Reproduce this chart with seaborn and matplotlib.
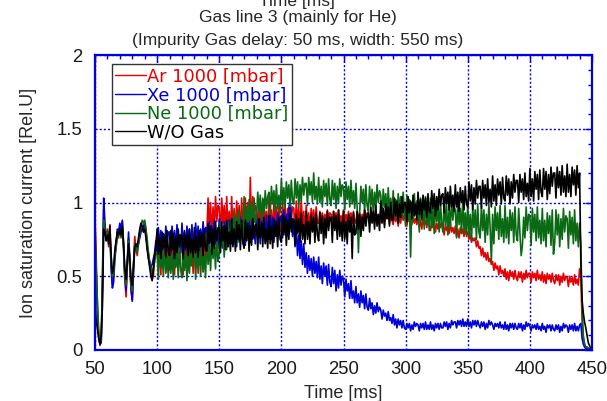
import numpy as np
import pandas as pd
import seaborn as sns
import matplotlib.pyplot as plt
from matplotlib.lines import Line2D
from matplotlib.ticker import MultipleLocator, FormatStrFormatter

# probe signal sampled every 1 ms
time_ms = np.arange(50, 451, 1.0)

# values, one row per 10 ms (last entry: 450 ms)
ar_1000 = [
    0.90, 0.62, 0.28, 0.10, 0.03, 0.06, 0.42, 0.95, 0.83, 0.74,
    0.82, 0.70, 0.85, 0.58, 0.44, 0.52, 0.66, 0.74, 0.80, 0.76,
    0.84, 0.78, 0.87, 0.68, 0.48, 0.36, 0.56, 0.76, 0.58, 0.40,
    0.34, 0.57, 0.77, 0.68, 0.64, 0.74, 0.77, 0.82, 0.84, 0.80,
    0.87, 0.82, 0.70, 0.66, 0.58, 0.56, 0.48, 0.50, 0.62, 0.72,
    0.79, 0.55, 0.71, 0.51, 0.76, 0.61, 0.73, 0.52, 0.78, 0.58,
    0.54, 0.78, 0.59, 0.75, 0.51, 0.72, 0.57, 0.79, 0.62, 0.73,
    0.72, 0.51, 0.78, 0.61, 0.73, 0.54, 0.79, 0.57, 0.69, 0.52,
    0.80, 0.56, 0.72, 0.52, 0.77, 0.62, 0.74, 0.53, 0.79, 0.59,
    0.79, 1.03, 0.84, 1.00, 0.76, 0.97, 0.82, 1.04, 0.87, 0.98,
    0.97, 0.76, 1.03, 0.86, 0.98, 0.79, 1.04, 0.82, 0.94, 0.77,
    1.04, 0.80, 0.96, 0.76, 1.01, 0.86, 0.98, 0.77, 1.03, 0.83,
    0.79, 1.03, 0.84, 1.00, 0.76, 1.17, 0.82, 1.04, 0.87, 0.98,
    0.96, 0.78, 1.01, 0.86, 0.97, 0.80, 1.02, 0.83, 0.94, 0.79,
    1.02, 0.82, 0.95, 0.78, 1.00, 0.86, 0.97, 0.79, 1.01, 0.84,
    0.80, 1.01, 0.85, 0.98, 0.78, 0.96, 0.83, 1.02, 0.88, 0.97,
    0.96, 0.78, 1.01, 0.86, 0.97, 0.80, 1.02, 0.83, 0.94, 0.79,
    0.98, 0.84, 0.93, 0.82, 0.96, 0.88, 0.95, 0.83, 0.97, 0.86,
    0.86, 0.94, 0.88, 0.93, 0.85, 0.92, 0.87, 0.95, 0.89, 0.93,
    0.92, 0.85, 0.94, 0.89, 0.93, 0.86, 0.95, 0.87, 0.91, 0.86,
    0.95, 0.87, 0.92, 0.85, 0.94, 0.89, 0.93, 0.86, 0.94, 0.88,
    0.86, 0.94, 0.88, 0.93, 0.85, 0.92, 0.87, 0.95, 0.89, 0.93,
    0.92, 0.85, 0.94, 0.89, 0.93, 0.86, 0.95, 0.87, 0.91, 0.86,
    0.95, 0.87, 0.92, 0.85, 0.94, 0.89, 0.93, 0.86, 0.94, 0.88,
    0.85, 0.93, 0.87, 0.92, 0.84, 0.91, 0.86, 0.94, 0.88, 0.92,
    0.90, 0.84, 0.91, 0.87, 0.90, 0.85, 0.92, 0.86, 0.89, 0.85,
    0.90, 0.83, 0.88, 0.82, 0.89, 0.85, 0.88, 0.83, 0.89, 0.84,
    0.81, 0.87, 0.83, 0.87, 0.80, 0.86, 0.82, 0.88, 0.83, 0.86,
    0.84, 0.78, 0.85, 0.81, 0.84, 0.79, 0.86, 0.80, 0.83, 0.79,
    0.84, 0.77, 0.82, 0.76, 0.83, 0.79, 0.82, 0.77, 0.83, 0.78,
    0.80, 0.75, 0.79, 0.73, 0.76, 0.74, 0.76, 0.70, 0.74, 0.69,
    0.70, 0.64, 0.69, 0.63, 0.66, 0.61, 0.66, 0.60, 0.62, 0.58,
    0.60, 0.54, 0.59, 0.55, 0.57, 0.51, 0.57, 0.52, 0.54, 0.50,
    0.55, 0.48, 0.53, 0.47, 0.54, 0.50, 0.53, 0.48, 0.54, 0.49,
    0.47, 0.53, 0.49, 0.53, 0.46, 0.52, 0.48, 0.54, 0.49, 0.52,
    0.52, 0.46, 0.53, 0.49, 0.52, 0.47, 0.54, 0.48, 0.51, 0.47,
    0.53, 0.46, 0.51, 0.45, 0.52, 0.48, 0.51, 0.46, 0.52, 0.47,
    0.45, 0.51, 0.47, 0.51, 0.44, 0.50, 0.46, 0.52, 0.47, 0.50,
    0.49, 0.43, 0.50, 0.46, 0.49, 0.44, 0.51, 0.45, 0.48, 0.44,
    0.55, 0.50, 0.20, 0.08, 0.04, 0.02, 0.02, 0.01, 0.01, 0.00,
    0.00,
]
xe_1000 = [
    0.78, 0.50, 0.22, 0.08, 0.04, 0.05, 0.50, 1.03, 0.86, 0.76,
    0.80, 0.74, 0.78, 0.55, 0.42, 0.46, 0.62, 0.70, 0.82, 0.80,
    0.86, 0.82, 0.88, 0.72, 0.50, 0.40, 0.60, 0.80, 0.62, 0.42,
    0.33, 0.52, 0.70, 0.72, 0.68, 0.72, 0.76, 0.80, 0.82, 0.84,
    0.86, 0.80, 0.70, 0.62, 0.60, 0.56, 0.58, 0.62, 0.66, 0.74,
    0.66, 0.83, 0.70, 0.81, 0.64, 0.79, 0.68, 0.84, 0.72, 0.80,
    0.80, 0.65, 0.84, 0.72, 0.81, 0.67, 0.85, 0.69, 0.78, 0.66,
    0.86, 0.69, 0.80, 0.66, 0.84, 0.73, 0.82, 0.67, 0.85, 0.71,
    0.69, 0.86, 0.73, 0.84, 0.67, 0.82, 0.71, 0.87, 0.75, 0.83,
    0.83, 0.68, 0.87, 0.75, 0.84, 0.70, 0.88, 0.72, 0.81, 0.69,
    0.89, 0.72, 0.83, 0.69, 0.87, 0.76, 0.85, 0.70, 0.88, 0.74,
    0.72, 0.89, 0.76, 0.87, 0.70, 0.85, 0.74, 0.90, 0.78, 0.86,
    0.86, 0.71, 0.90, 0.78, 0.87, 0.73, 0.91, 0.75, 0.84, 0.72,
    0.92, 0.75, 0.86, 0.72, 0.90, 0.79, 0.88, 0.73, 0.91, 0.77,
    0.75, 0.92, 0.79, 0.90, 0.73, 0.88, 0.77, 0.93, 0.81, 0.89,
    0.91, 0.76, 0.95, 0.83, 0.92, 0.78, 0.96, 1.02, 0.89, 0.77,
    0.88, 0.70, 0.82, 0.64, 0.78, 0.62, 0.74, 0.58, 0.72, 0.56,
    0.66, 0.52, 0.64, 0.54, 0.62, 0.50, 0.63, 0.52, 0.60, 0.49,
    0.63, 0.48, 0.57, 0.45, 0.59, 0.50, 0.57, 0.44, 0.58, 0.46,
    0.43, 0.56, 0.45, 0.54, 0.40, 0.51, 0.42, 0.54, 0.44, 0.50,
    0.48, 0.36, 0.48, 0.40, 0.45, 0.35, 0.47, 0.35, 0.40, 0.32,
    0.43, 0.32, 0.38, 0.29, 0.40, 0.32, 0.37, 0.28, 0.38, 0.29,
    0.27, 0.35, 0.28, 0.32, 0.24, 0.30, 0.25, 0.32, 0.26, 0.29,
    0.27, 0.21, 0.27, 0.23, 0.25, 0.20, 0.26, 0.20, 0.22, 0.18,
    0.24, 0.17, 0.21, 0.15, 0.21, 0.17, 0.20, 0.15, 0.20, 0.15,
    0.14, 0.18, 0.15, 0.18, 0.13, 0.17, 0.14, 0.19, 0.16, 0.18,
    0.17, 0.13, 0.18, 0.15, 0.18, 0.14, 0.19, 0.14, 0.17, 0.14,
    0.19, 0.14, 0.17, 0.13, 0.18, 0.15, 0.18, 0.14, 0.18, 0.15,
    0.15, 0.19, 0.16, 0.19, 0.14, 0.18, 0.15, 0.20, 0.17, 0.19,
    0.19, 0.15, 0.20, 0.17, 0.20, 0.16, 0.21, 0.16, 0.19, 0.16,
    0.21, 0.16, 0.19, 0.15, 0.20, 0.17, 0.20, 0.16, 0.20, 0.17,
    0.15, 0.19, 0.16, 0.19, 0.14, 0.18, 0.15, 0.20, 0.17, 0.19,
    0.17, 0.14, 0.18, 0.16, 0.18, 0.15, 0.19, 0.15, 0.17, 0.14,
    0.19, 0.14, 0.17, 0.13, 0.18, 0.15, 0.18, 0.14, 0.18, 0.15,
    0.14, 0.18, 0.15, 0.18, 0.13, 0.17, 0.14, 0.19, 0.16, 0.18,
    0.16, 0.13, 0.17, 0.15, 0.17, 0.14, 0.18, 0.14, 0.16, 0.13,
    0.18, 0.14, 0.16, 0.12, 0.17, 0.15, 0.17, 0.13, 0.17, 0.14,
    0.13, 0.17, 0.14, 0.17, 0.12, 0.16, 0.13, 0.18, 0.15, 0.17,
    0.16, 0.12, 0.17, 0.14, 0.17, 0.13, 0.18, 0.13, 0.16, 0.13,
    0.17, 0.18, 0.08, 0.04, 0.02, 0.01, 0.01, 0.01, 0.00, 0.00,
    0.00,
]
ne_1000 = [
    0.85, 0.55, 0.32, 0.12, 0.05, 0.07, 0.38, 0.88, 0.82, 0.78,
    0.80, 0.76, 0.78, 0.62, 0.50, 0.52, 0.64, 0.70, 0.76, 0.80,
    0.80, 0.76, 0.82, 0.70, 0.52, 0.44, 0.58, 0.74, 0.60, 0.44,
    0.40, 0.58, 0.72, 0.70, 0.66, 0.72, 0.80, 0.84, 0.88, 0.86,
    0.88, 0.82, 0.75, 0.66, 0.60, 0.55, 0.52, 0.56, 0.60, 0.66,
    0.66, 0.48, 0.71, 0.56, 0.67, 0.50, 0.72, 0.53, 0.64, 0.49,
    0.72, 0.52, 0.65, 0.48, 0.70, 0.56, 0.67, 0.49, 0.71, 0.54,
    0.49, 0.70, 0.54, 0.67, 0.47, 0.65, 0.52, 0.71, 0.57, 0.66,
    0.66, 0.48, 0.71, 0.56, 0.67, 0.50, 0.72, 0.53, 0.64, 0.49,
    0.78, 0.58, 0.71, 0.54, 0.76, 0.62, 0.73, 0.55, 0.77, 0.60,
    0.65, 0.86, 0.70, 0.83, 0.63, 0.81, 0.68, 0.87, 0.73, 0.82,
    0.89, 0.71, 0.94, 0.79, 0.90, 0.73, 0.95, 0.76, 0.87, 0.72,
    1.04, 0.84, 0.97, 0.80, 1.02, 0.88, 0.99, 0.81, 1.03, 0.86,
    0.90, 1.07, 0.94, 1.05, 0.88, 1.03, 0.92, 1.08, 0.96, 1.04,
    1.07, 0.92, 1.11, 0.99, 1.08, 0.94, 1.12, 0.96, 1.05, 0.93,
    1.16, 0.99, 1.10, 0.96, 1.14, 1.03, 1.12, 0.97, 1.15, 1.01,
    0.99, 1.16, 1.03, 1.14, 0.97, 1.12, 1.01, 1.17, 1.05, 1.13,
    1.13, 0.98, 1.17, 1.05, 1.14, 1.00, 1.20, 1.02, 1.11, 0.99,
    1.17, 1.00, 1.11, 0.97, 1.15, 1.04, 1.13, 0.98, 1.16, 1.02,
    0.98, 1.15, 1.02, 1.13, 0.96, 1.11, 1.00, 1.16, 1.04, 1.12,
    1.10, 0.95, 1.14, 1.02, 1.11, 0.97, 1.15, 0.99, 1.08, 0.96,
    1.13, 0.96, 0.66, 0.93, 1.11, 1.00, 1.09, 0.94, 1.12, 0.98,
    0.94, 1.11, 0.98, 1.09, 0.92, 1.07, 0.96, 1.12, 1.00, 1.08,
    1.05, 0.90, 1.09, 0.97, 1.06, 0.92, 1.10, 0.94, 1.03, 0.91,
    1.08, 0.91, 1.02, 0.88, 1.06, 0.95, 1.04, 0.89, 1.07, 0.93,
    0.84, 1.05, 0.89, 1.02, 0.63, 1.00, 0.87, 1.06, 0.92, 1.01,
    0.98, 0.80, 1.03, 0.88, 0.99, 0.82, 1.04, 0.85, 0.96, 0.81,
    1.03, 0.83, 0.96, 0.79, 1.01, 0.87, 0.98, 0.80, 1.02, 0.85,
    0.80, 1.01, 0.85, 0.98, 0.78, 0.96, 0.83, 1.02, 0.88, 0.97,
    0.95, 0.76, 1.01, 0.85, 0.96, 0.79, 1.02, 0.81, 0.93, 0.77,
    1.00, 0.78, 0.92, 0.74, 0.97, 0.83, 0.95, 0.75, 0.99, 0.80,
    0.76, 0.98, 0.81, 0.95, 0.73, 0.92, 0.78, 0.99, 0.83, 0.60,
    0.92, 0.72, 0.97, 0.81, 0.93, 0.75, 0.98, 0.77, 0.89, 0.73,
    0.98, 0.76, 0.90, 0.72, 0.95, 0.81, 0.93, 0.73, 0.97, 0.78,
    0.74, 0.96, 0.79, 0.64, 0.71, 0.90, 0.76, 0.97, 0.81, 0.92,
    0.91, 0.71, 0.96, 0.80, 0.92, 0.74, 0.97, 0.76, 0.88, 0.72,
    0.96, 0.74, 0.88, 0.70, 0.93, 0.79, 0.91, 0.71, 0.95, 0.65,
    0.73, 0.95, 0.78, 0.92, 0.70, 0.89, 0.75, 0.96, 0.80, 0.91,
    0.89, 0.69, 0.94, 0.78, 0.90, 0.72, 0.95, 0.74, 0.86, 0.70,
    0.86, 0.72, 0.30, 0.10, 0.04, 0.02, 0.02, 0.01, 0.00, 0.00,
    0.00,
]
wo_gas = [
    0.30, 0.20, 0.14, 0.08, 0.04, 0.10, 0.30, 0.82, 0.80, 0.74,
    0.78, 0.72, 0.84, 0.64, 0.52, 0.56, 0.68, 0.74, 0.80, 0.78,
    0.82, 0.78, 0.84, 0.72, 0.55, 0.48, 0.60, 0.72, 0.62, 0.48,
    0.44, 0.58, 0.70, 0.72, 0.70, 0.76, 0.82, 0.86, 0.84, 0.80,
    0.82, 0.76, 0.68, 0.62, 0.56, 0.50, 0.47, 0.55, 0.64, 0.70,
    0.82, 0.65, 0.76, 0.62, 0.80, 0.69, 0.78, 0.63, 0.81, 0.67,
    0.64, 0.81, 0.68, 0.79, 0.62, 0.77, 0.66, 0.82, 0.70, 0.78,
    0.77, 0.62, 0.81, 0.69, 0.78, 0.64, 0.82, 0.66, 0.75, 0.63,
    0.83, 0.66, 0.77, 0.63, 0.81, 0.70, 0.79, 0.64, 0.82, 0.68,
    0.67, 0.86, 0.72, 0.84, 0.65, 0.82, 0.69, 0.87, 0.74, 0.83,
    0.83, 0.66, 0.87, 0.74, 0.84, 0.68, 0.88, 0.70, 0.80, 0.67,
    0.89, 0.70, 0.82, 0.67, 0.87, 0.75, 0.85, 0.68, 0.88, 0.73,
    0.69, 0.88, 0.74, 0.86, 0.67, 0.84, 0.71, 0.89, 0.76, 0.85,
    0.85, 0.68, 0.89, 0.76, 0.86, 0.70, 0.90, 0.72, 0.82, 0.69,
    0.91, 0.72, 0.84, 0.69, 0.89, 0.77, 0.87, 0.70, 0.90, 0.75,
    0.73, 0.92, 0.78, 0.90, 0.71, 0.88, 0.75, 0.93, 0.80, 0.89,
    0.88, 0.71, 0.92, 0.79, 0.89, 0.73, 0.93, 0.75, 0.85, 0.72,
    0.94, 0.75, 0.87, 0.72, 0.92, 0.80, 0.90, 0.73, 0.93, 0.78,
    0.74, 0.93, 0.79, 0.91, 0.72, 0.89, 0.76, 0.94, 0.81, 0.90,
    0.90, 0.73, 0.94, 0.81, 0.91, 0.75, 0.95, 0.77, 0.87, 0.74,
    0.94, 0.75, 0.87, 0.72, 0.92, 0.80, 0.90, 0.62, 0.93, 0.78,
    0.79, 0.94, 0.82, 0.92, 0.77, 0.90, 0.81, 0.95, 0.84, 0.91,
    0.93, 0.80, 0.97, 0.86, 0.94, 0.82, 0.98, 0.84, 0.92, 0.81,
    1.01, 0.86, 0.96, 0.83, 0.99, 0.89, 0.97, 0.84, 1.00, 0.88,
    0.88, 1.03, 0.91, 1.01, 0.86, 0.99, 0.90, 1.04, 0.93, 1.00,
    1.00, 0.87, 1.04, 0.93, 1.01, 0.89, 1.05, 0.91, 0.99, 0.88,
    1.07, 0.92, 1.02, 0.89, 1.05, 0.95, 1.03, 0.90, 1.06, 0.94,
    0.93, 1.08, 0.96, 1.06, 0.91, 1.04, 0.95, 1.09, 0.98, 1.05,
    1.06, 0.93, 1.10, 0.99, 1.07, 0.95, 1.11, 0.97, 1.05, 0.94,
    1.12, 0.97, 1.07, 0.94, 1.10, 1.00, 1.08, 0.95, 1.11, 0.99,
    0.97, 1.14, 1.01, 1.12, 0.95, 1.10, 0.99, 1.15, 1.03, 1.11,
    1.11, 0.96, 1.15, 1.03, 1.12, 0.98, 1.16, 1.00, 1.09, 0.97,
    1.18, 1.01, 1.12, 0.98, 1.16, 1.05, 1.14, 0.99, 1.17, 1.03,
    1.01, 1.18, 1.05, 1.16, 0.99, 1.14, 1.03, 1.19, 1.07, 1.15,
    1.15, 1.00, 1.19, 1.07, 1.16, 1.02, 1.20, 1.04, 1.13, 1.01,
    1.23, 1.04, 1.16, 1.01, 1.21, 1.09, 1.19, 1.02, 1.22, 1.07,
    1.04, 1.23, 1.09, 1.21, 1.02, 1.19, 1.06, 1.24, 1.11, 1.20,
    1.20, 1.03, 1.24, 1.10, 1.21, 1.05, 1.25, 1.07, 1.18, 1.04,
    1.26, 1.07, 1.19, 1.04, 1.24, 1.12, 1.22, 1.05, 1.25, 1.10,
    1.20, 0.60, 0.34, 0.25, 0.19, 0.15, 0.10, 0.05, 0.03, 0.01,
    0.00,
]

series_names = ["Ar 1000 [mbar]", "Xe 1000 [mbar]", "Ne 1000 [mbar]", "W/O Gas"]
series_colors = ["#e80000", "#0000d8", "#0a6a14", "#000000"]

sns.set_theme(style="white")
plt.rcParams["font.family"] = ["Liberation Sans", "DejaVu Sans"]

frames = []
for name, vals in zip(series_names, [ar_1000, xe_1000, ne_1000, wo_gas]):
    frames.append(pd.DataFrame({"time": time_ms, "current": vals, "gas": name}))
df = pd.concat(frames, ignore_index=True)

fig = plt.figure(figsize=(6.07, 4.01), dpi=100, facecolor="w")
ax = fig.add_axes([0.1565, 0.1272, 0.8188, 0.7356])

sns.lineplot(
    data=df, x="time", y="current", hue="gas", hue_order=series_names,
    palette=dict(zip(series_names, series_colors)), estimator=None,
    sort=False, lw=1.2, legend=False, ax=ax
)

blue = "#0000e6"
ax.set_xlim(50, 450)
ax.set_ylim(0, 2)
ax.xaxis.set_major_locator(MultipleLocator(50))
ax.xaxis.set_minor_locator(MultipleLocator(10))
ax.yaxis.set_major_locator(MultipleLocator(0.5))
ax.yaxis.set_minor_locator(MultipleLocator(0.1))
ax.yaxis.set_major_formatter(FormatStrFormatter("%g"))
ax.grid(True, which="major", color=blue, linestyle=(0, (1.5, 1.5)), lw=1.0)
for sp in ax.spines.values():
    sp.set_color(blue)
    sp.set_linewidth(1.6)
ax.tick_params(which="both", direction="in", top=True, right=True,
               color=blue, width=1.0, labelsize=13.3, labelcolor="#1a1a1a")
ax.tick_params(which="major", length=5)
ax.tick_params(which="minor", length=3)
ax.tick_params(axis="y", pad=9)
ax.tick_params(axis="x", pad=8)

ax.set_xlabel("Time [ms]", fontsize=13, labelpad=5)
ax.set_ylabel("Ion saturation current [Rel.U]", fontsize=13, labelpad=14)

fig.text(0.49, 1 - 6 / 401, "Time [ms]", ha="center", va="baseline", fontsize=12.5)
fig.text(0.49, 1 - 21.7 / 401, "Gas line 3 (mainly for He)",
         ha="center", va="baseline", fontsize=12.5)
fig.text(0.49, 1 - 45 / 401, "(Impurity Gas delay: 50 ms, width: 550 ms)",
         ha="center", va="baseline", fontsize=12.5)

handles = [Line2D([], [], color=c, lw=1.0) for c in series_colors]
leg = ax.legend(handles, series_names, loc="upper left",
                bbox_to_anchor=(0.034, 0.969), borderaxespad=0,
                prop={"family": "DejaVu Sans", "size": 12.8},
                frameon=True, fancybox=False,
                edgecolor="#333333", framealpha=1, handlelength=1.7,
                handletextpad=0.1, labelspacing=0.03, borderpad=0.2)
leg.get_frame().set_linewidth(1.0)
for txt, c in zip(leg.get_texts(), series_colors):
    txt.set_color(c)

plt.savefig("out.png", dpi=100)
